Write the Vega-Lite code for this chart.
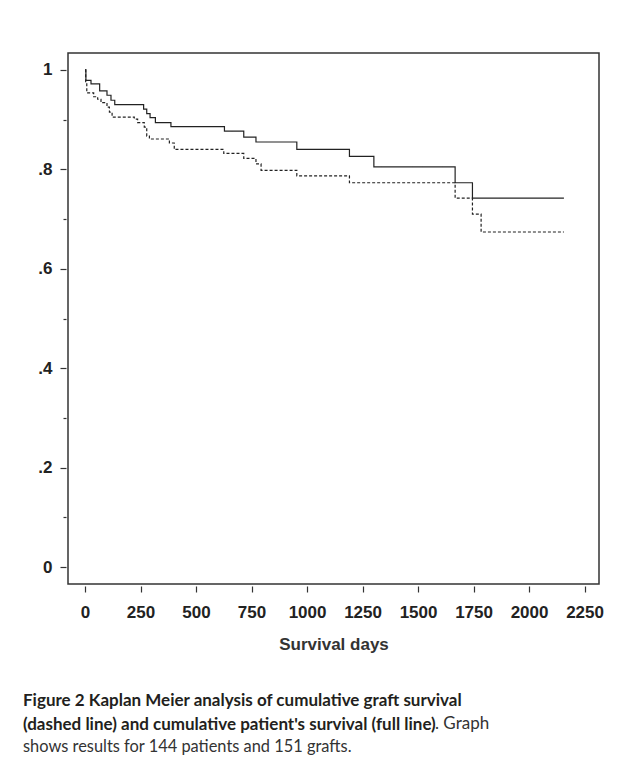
{
  "$schema": "https://vega.github.io/schema/vega-lite/v6.json",
  "padding": {"left": 22, "top": 52, "right": 5, "bottom": 5},
  "background": "white",
  "config": {
    "view": {"stroke": "#333333", "strokeWidth": 1.5},
    "axis": {"domain": false, "grid": false}
  },
  "title": {
    "text": ". Graph",
    "orient": "bottom",
    "anchor": "start",
    "frame": "group",
    "dx": 367,
    "dy": -40,
    "offset": 0,
    "font": "Lato",
    "fontSize": 17,
    "fontWeight": "normal",
    "color": "#333333"
  },
  "vconcat": [
    {
      "width": 531,
      "height": 531,
      "title": {
        "text": ["Figure 2 Kaplan Meier analysis of cumulative graft survival", "(dashed line) and cumulative patient's survival (full line)"],
        "subtitle": "shows results for 144 patients and 151 grafts.",
        "orient": "bottom",
        "anchor": "start",
        "frame": "group",
        "dx": -45,
        "offset": 41,
        "font": "Lato",
        "fontSize": 17,
        "fontWeight": "bold",
        "color": "#231f20",
        "lineHeight": 24,
        "subtitleFont": "Lato",
        "subtitleFontSize": 16.4,
        "subtitleFontWeight": "normal",
        "subtitleColor": "#333333",
        "subtitlePadding": 5
      },
      "data": {
        "values": [
          {"days": 0, "surv": 1.0, "curve": "patient"},
          {"days": 4, "surv": 0.979, "curve": "patient"},
          {"days": 27, "surv": 0.972, "curve": "patient"},
          {"days": 66, "surv": 0.958, "curve": "patient"},
          {"days": 99, "surv": 0.949, "curve": "patient"},
          {"days": 117, "surv": 0.939, "curve": "patient"},
          {"days": 134, "surv": 0.93, "curve": "patient"},
          {"days": 264, "surv": 0.921, "curve": "patient"},
          {"days": 278, "surv": 0.912, "curve": "patient"},
          {"days": 293, "surv": 0.904, "curve": "patient"},
          {"days": 317, "surv": 0.894, "curve": "patient"},
          {"days": 387, "surv": 0.886, "curve": "patient"},
          {"days": 628, "surv": 0.877, "curve": "patient"},
          {"days": 715, "surv": 0.865, "curve": "patient"},
          {"days": 770, "surv": 0.855, "curve": "patient"},
          {"days": 954, "surv": 0.84, "curve": "patient"},
          {"days": 1191, "surv": 0.826, "curve": "patient"},
          {"days": 1301, "surv": 0.805, "curve": "patient"},
          {"days": 1667, "surv": 0.773, "curve": "patient"},
          {"days": 1745, "surv": 0.742, "curve": "patient"},
          {"days": 2157, "surv": 0.742, "curve": "patient"},
          {"days": 0, "surv": 1.0, "curve": "graft"},
          {"days": 3, "surv": 0.975, "curve": "graft"},
          {"days": 8, "surv": 0.954, "curve": "graft"},
          {"days": 39, "surv": 0.946, "curve": "graft"},
          {"days": 57, "surv": 0.941, "curve": "graft"},
          {"days": 72, "surv": 0.934, "curve": "graft"},
          {"days": 99, "surv": 0.925, "curve": "graft"},
          {"days": 110, "surv": 0.915, "curve": "graft"},
          {"days": 122, "surv": 0.905, "curve": "graft"},
          {"days": 222, "surv": 0.901, "curve": "graft"},
          {"days": 237, "surv": 0.894, "curve": "graft"},
          {"days": 267, "surv": 0.885, "curve": "graft"},
          {"days": 278, "surv": 0.867, "curve": "graft"},
          {"days": 290, "surv": 0.861, "curve": "graft"},
          {"days": 380, "surv": 0.853, "curve": "graft"},
          {"days": 402, "surv": 0.84, "curve": "graft"},
          {"days": 625, "surv": 0.832, "curve": "graft"},
          {"days": 715, "surv": 0.822, "curve": "graft"},
          {"days": 770, "surv": 0.811, "curve": "graft"},
          {"days": 793, "surv": 0.798, "curve": "graft"},
          {"days": 954, "surv": 0.787, "curve": "graft"},
          {"days": 1191, "surv": 0.773, "curve": "graft"},
          {"days": 1667, "surv": 0.742, "curve": "graft"},
          {"days": 1745, "surv": 0.71, "curve": "graft"},
          {"days": 1784, "surv": 0.674, "curve": "graft"},
          {"days": 2157, "surv": 0.674, "curve": "graft"}
        ]
      },
      "mark": {"type": "line", "interpolate": "step-after", "strokeWidth": 1.2, "color": "#222222"},
      "encoding": {
        "x": {
          "field": "days",
          "type": "quantitative",
          "scale": {"domain": [-76.6, 2315], "nice": false, "zero": false},
          "axis": {
            "values": [0, 250, 500, 750, 1000, 1250, 1500, 1750, 2000, 2250],
            "format": "d",
            "title": "Survival days",
            "titleFont": "Liberation Sans",
            "titleFontSize": 17,
            "titleFontWeight": "bold",
            "titleColor": "#333333",
            "titlePadding": 16,
            "labelFont": "Liberation Sans",
            "labelFontSize": 17,
            "labelFontWeight": "bold",
            "labelColor": "#222222",
            "labelPadding": 12,
            "tickSize": 6,
            "tickWidth": 1.2,
            "tickColor": "#333333",
            "offset": 2,
            "labelFlush": false,
            "labelOverlap": false
          }
        },
        "y": {
          "field": "surv",
          "type": "quantitative",
          "scale": {"domain": [-0.034, 1.034], "nice": false, "zero": false},
          "axis": {
            "values": [0, 0.1, 0.2, 0.3, 0.4, 0.5, 0.6, 0.7, 0.8, 0.9, 1],
            "labelExpr": "round(datum.value * 10) % 2 == 1 ? '' : (datum.value == 0 ? '0' : (datum.value == 1 ? '1' : '.' + round(datum.value * 10)))",
            "title": null,
            "labelFont": "Liberation Sans",
            "labelFontSize": 17,
            "labelFontWeight": "bold",
            "labelColor": "#222222",
            "labelPadding": 8,
            "tickSize": {"condition": {"test": "round(datum.value * 10) % 2 == 1", "value": 3}, "value": 6},
            "tickWidth": 1.2,
            "tickColor": "#333333",
            "offset": 2,
            "labelFlush": false,
            "labelOverlap": false
          }
        },
        "strokeDash": {
          "field": "curve",
          "type": "nominal",
          "scale": {"domain": ["patient", "graft"], "range": [[1, 0], [3, 2]]},
          "legend": null
        }
      }
    }
  ]
}
